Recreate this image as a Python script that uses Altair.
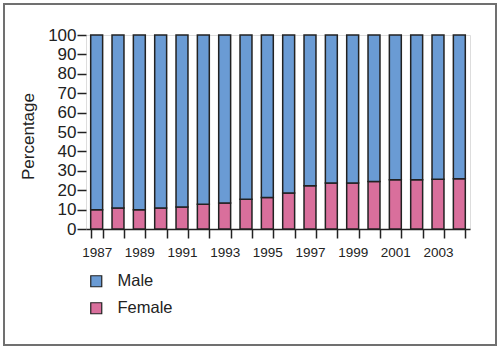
import altair as alt
import pandas as pd

years = [str(y) for y in range(1987, 2005)]
female = [9.9, 10.8, 9.9, 10.8, 11.3, 12.7, 13.4, 15.3, 16.3, 18.5, 22.3, 23.7, 23.7, 24.5, 25.4, 25.4, 25.7, 25.9]
male = [round(100 - f, 1) for f in female]
series = ["Male", "Female"]
colors = ["#6a9bd4", "#d96f9c"]

rows = []
for y, f, m in zip(years, female, male):
    rows.append({"Year": y, "Sex": "Female", "Value": f, "ord": 0})
    rows.append({"Year": y, "Sex": "Male", "Value": m, "ord": 1})
df = pd.DataFrame(rows)

FONT = "Liberation Sans"

bars = alt.Chart(df).mark_bar(stroke="#222222", strokeWidth=1.5).encode(
    x=alt.X("Year:N", sort=years,
            scale=alt.Scale(paddingInner=0.44, paddingOuter=0.22),
            axis=alt.Axis(title=None, tickBand="extent", labelAngle=0,
                          labelExpr="parseInt(datum.value) % 2 == 1 ? datum.label : ''",
                          labelOverlap=False, tickSize=9, labelPadding=7,
                          labelFontSize=13.5, labelFont=FONT, labelColor="#222222",
                          domainColor="#222222", tickColor="#222222",
                          domainWidth=1.5, tickWidth=1.5)),
    y=alt.Y("Value:Q", stack="zero",
            scale=alt.Scale(domain=[0, 100], nice=False),
            axis=alt.Axis(title="Percentage", values=list(range(0, 101, 10)),
                          domain=False, grid=False, tickSize=9, labelPadding=1,
                          labelFontSize=17, labelFont=FONT, labelColor="#222222",
                          tickColor="#222222", tickWidth=1.5,
                          titleFont=FONT, titleFontSize=17, titleFontWeight="normal",
                          titleColor="#222222", titleX=-58, titleY=101,
                          titleAngle=270, titleAlign="center", titleBaseline="middle")),
    color=alt.Color("Sex:N", scale=alt.Scale(domain=series, range=colors),
                    legend=alt.Legend(title=None, orient="none", legendX=2, legendY=238,
                                      symbolType="square", symbolSize=121,
                                      symbolStrokeColor="#222222", symbolStrokeWidth=1.2,
                                      symbolOpacity=1,
                                      labelFont=FONT, labelFontSize=16.5, labelColor="#222222",
                                      labelOffset=13, rowPadding=10, padding=0)),
    order=alt.Order("ord:Q"),
)

frame = alt.Chart(alt.Data(values=[{"a": 1}])).mark_rect(
    fill=None, stroke="#707070", strokeWidth=2
).encode(
    x=alt.value(-82), x2=alt.value(410), y=alt.value(-31), y2=alt.value(310)
)

chart = alt.layer(bars, frame).properties(
    width=384, height=194,
    autosize=alt.AutoSizeParams(type="none"),
    padding={"left": 86, "top": 35, "right": 30, "bottom": 121},
).configure_view(stroke=None).configure(background="white")

chart.save("out.html", embed_options={"renderer": "svg", "actions": False})
